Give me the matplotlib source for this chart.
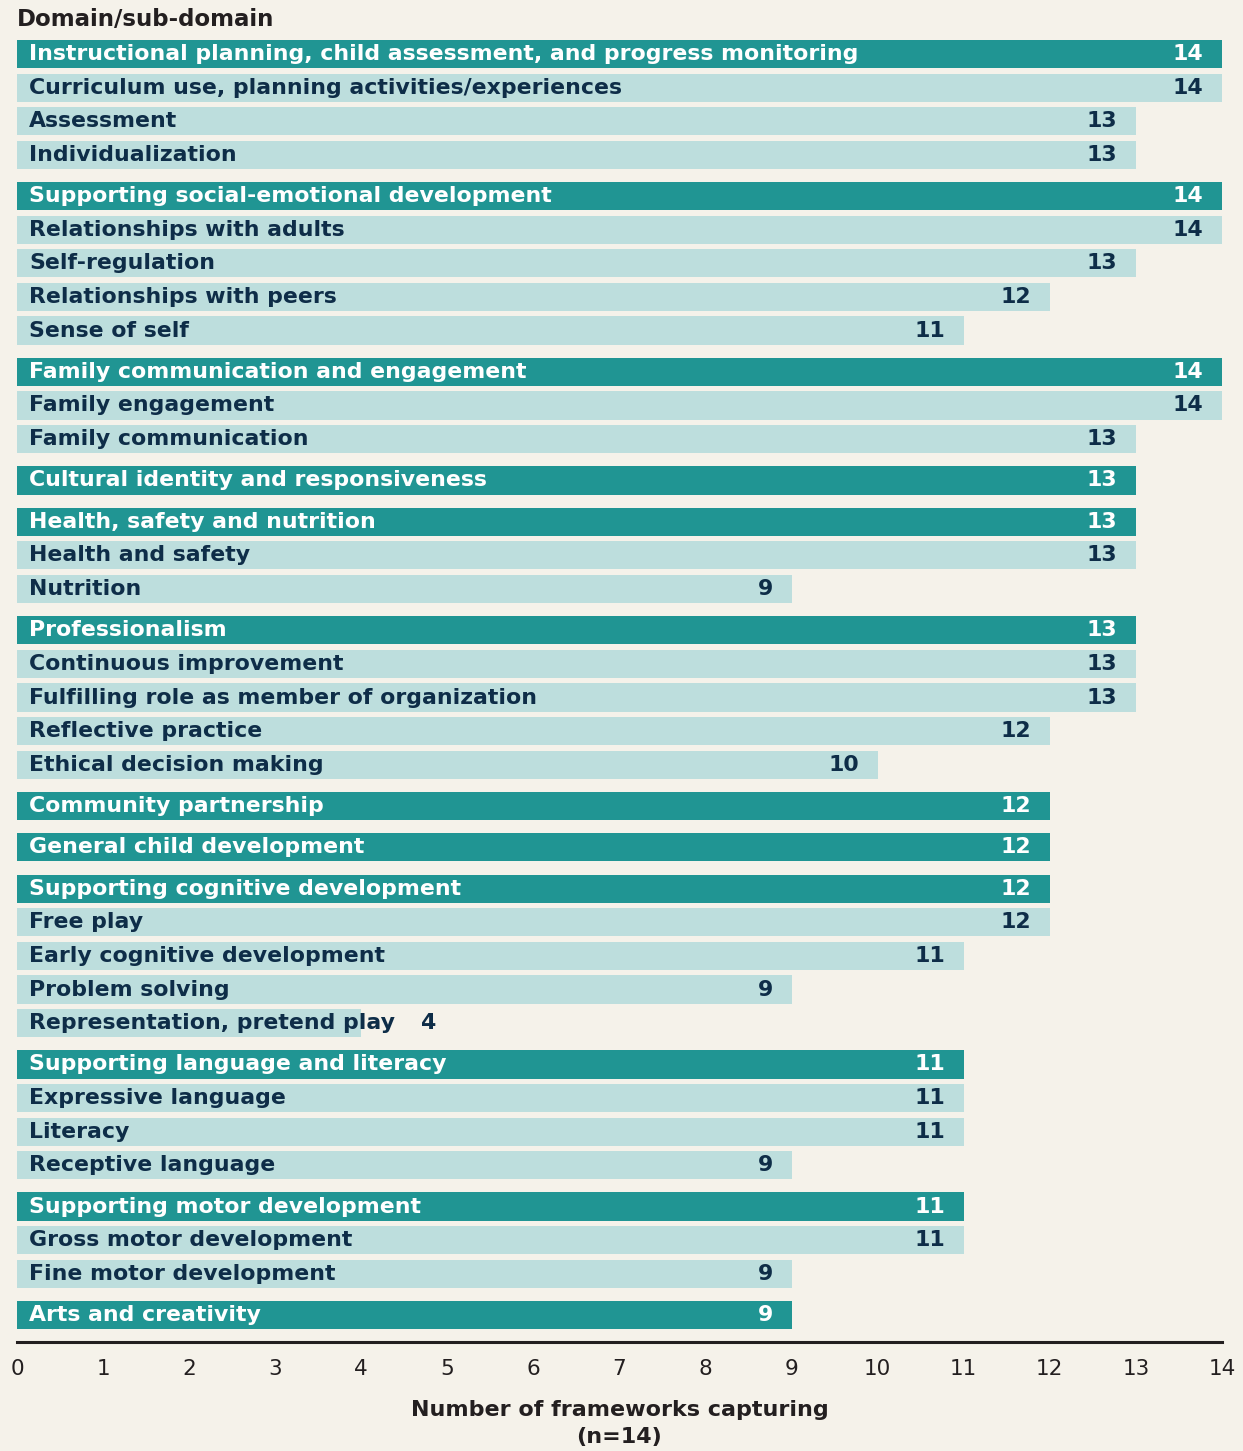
import matplotlib
matplotlib.use("Agg")
import matplotlib.pyplot as plt

# Data
labels = [
    "Instructional planning, child assessment, and progress monitoring",
    "Curriculum use, planning activities/experiences",
    "Assessment",
    "Individualization",
    "Supporting social-emotional development",
    "Relationships with adults",
    "Self-regulation",
    "Relationships with peers",
    "Sense of self",
    "Family communication and engagement",
    "Family engagement",
    "Family communication",
    "Cultural identity and responsiveness",
    "Health, safety and nutrition",
    "Health and safety",
    "Nutrition",
    "Professionalism",
    "Continuous improvement",
    "Fulfilling role as member of organization",
    "Reflective practice",
    "Ethical decision making",
    "Community partnership",
    "General child development",
    "Supporting cognitive development",
    "Free play",
    "Early cognitive development",
    "Problem solving",
    "Representation, pretend play",
    "Supporting language and literacy",
    "Expressive language",
    "Literacy",
    "Receptive language",
    "Supporting motor development",
    "Gross motor development",
    "Fine motor development",
    "Arts and creativity",
]
values = [14, 14, 13, 13,
          14, 14, 13, 12, 11,
          14, 14, 13,
          13,
          13, 13, 9,
          13, 13, 13, 12, 10,
          12,
          12,
          12, 12, 11, 9, 4,
          11, 11, 11, 9,
          11, 11, 9,
          9]
group_sizes = [4, 5, 3, 1, 3, 5, 1, 1, 5, 4, 3, 1]

BG = "#F5F2EA"
DARK = "#209593"
LIGHT = "#BDDEDD"
NAVY = "#0E2D48"
INK = "#231F20"
FONT = ["DejaVu Sans"]

# row positions with a small gap between domains
positions, is_domain = [], []
row = 0
for g, size in enumerate(group_sizes):
    for k in range(size):
        positions.append(row + 0.23 * g)
        is_domain.append(k == 0)
        row += 1

fig = plt.figure(figsize=(12.43, 14.51), dpi=100, facecolor=BG)
ax = fig.add_axes([17 / 1243, 1 - 1342 / 1451, 1205 / 1243, 1306 / 1451])
ax.set_facecolor(BG)

colors = [DARK if d else LIGHT for d in is_domain]
ax.barh(positions, values, height=0.84, color=colors, zorder=2)

ax.set_xlim(0, 14)
ax.set_ylim(38.33, -0.536)

fig.canvas.draw()
renderer = fig.canvas.get_renderer()
inv = ax.transData.inverted()

for y, lab, v, d in zip(positions, labels, values, is_domain):
    tc = "white" if d else NAVY
    t = ax.text(0.14, y, lab, va="center", ha="left", fontsize=15.8,
                fontweight="bold", color=tc, family=FONT, zorder=3)
    bb = t.get_window_extent(renderer)
    end_x = inv.transform((bb.x1, bb.y0))[0]
    if end_x > v - 0.6:
        # label runs past the bar: put the count after the label text
        ax.text(end_x + 0.3, y, str(v), va="center", ha="left", fontsize=15.8,
                fontweight="bold", color=NAVY, family=FONT, zorder=3)
    else:
        ax.text(v - 0.22, y, str(v), va="center", ha="right", fontsize=15.8,
                fontweight="bold", color=tc, family=FONT, zorder=3)

for s in ["top", "right", "left"]:
    ax.spines[s].set_visible(False)
ax.spines["bottom"].set_color(INK)
ax.spines["bottom"].set_linewidth(2.2)
ax.set_yticks([])
ax.set_xticks(range(0, 15))
ax.tick_params(axis="x", length=0, pad=12, labelsize=15.5, labelcolor=INK)
for tl in ax.get_xticklabels():
    tl.set_family(FONT)

ax.set_xlabel("Number of frameworks capturing\n(n=14)", fontsize=16,
              fontweight="bold", color=INK, family=FONT, labelpad=15,
              linespacing=1.45)

fig.text(17 / 1243, 1 - 20 / 1451, "Domain/sub-domain", ha="left", va="center",
         fontsize=16.5, fontweight="bold", color=INK, family=FONT)

fig.savefig("out.png", dpi=100, facecolor=BG)
